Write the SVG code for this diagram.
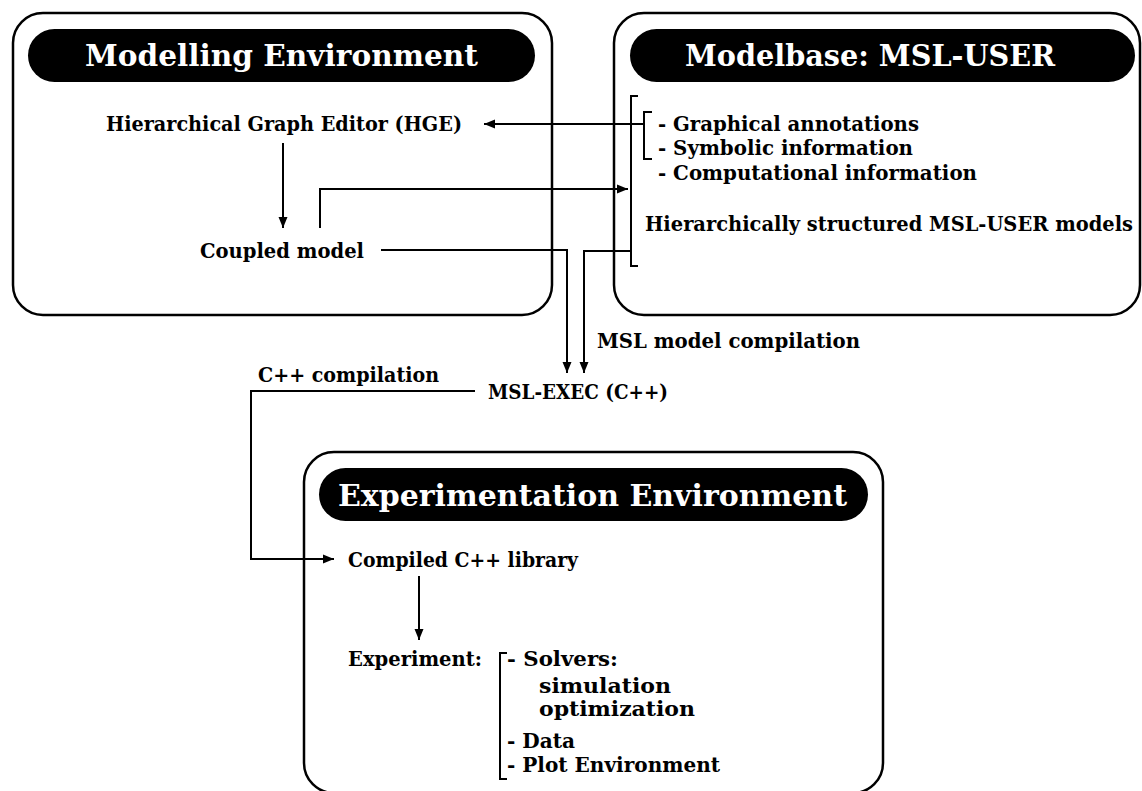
<svg xmlns="http://www.w3.org/2000/svg" width="1142" height="791" viewBox="0 0 1142 791">
<style>
.box{fill:#fff;stroke:#000;stroke-width:2.5}
.pill{fill:#000;stroke:none}
.title{font-family:"DejaVu Serif","Liberation Serif",serif;font-weight:bold;font-size:30px;fill:#fff}
.t{font-family:"DejaVu Serif","Liberation Serif",serif;font-weight:bold;font-size:21px;fill:#000}
.ln{fill:none;stroke:#000;stroke-width:2}
.arr{fill:none;stroke:#000;stroke-width:2;marker-end:url(#ah)}
</style>
<defs>
<marker id="ah" markerUnits="userSpaceOnUse" markerWidth="12" markerHeight="10" refX="11" refY="5" orient="auto">
<path d="M0,0.5 L11,5 L0,9.5 Z" fill="#000"/>
</marker>
</defs>
<rect width="1142" height="791" fill="#fff"/>
<g id="modelling-environment">
<rect class="box" x="13" y="13" width="539" height="302" rx="30"/>
<rect class="pill" x="28" y="29" width="507" height="53" rx="26.5"/>
<text class="title" x="85" y="66" textLength="393" lengthAdjust="spacingAndGlyphs">Modelling Environment</text>
</g>
<g id="modelbase">
<rect class="box" x="614" y="13" width="526" height="302" rx="30"/>
<rect class="pill" x="630" y="29" width="505" height="53" rx="26.5"/>
<text class="title" x="685" y="66" textLength="370" lengthAdjust="spacingAndGlyphs">Modelbase: MSL-USER</text>
</g>
<g id="experimentation-environment">
<rect class="box" x="304" y="452" width="579" height="341" rx="30"/>
<rect class="pill" x="319" y="468" width="549" height="53" rx="26.5"/>
<text class="title" x="338" y="506" textLength="509" lengthAdjust="spacingAndGlyphs">Experimentation Environment</text>
</g>
<g id="hge"><text class="t" x="106" y="131" textLength="356" lengthAdjust="spacingAndGlyphs">Hierarchical Graph Editor (HGE)</text></g>
<g id="coupled-model"><text class="t" x="200" y="258" textLength="164" lengthAdjust="spacingAndGlyphs">Coupled model</text></g>
<g id="msl-user-models">
<path class="ln" d="M638,96 H631 V266 H638"/>
<path class="ln" d="M652,112 H644 V159 H652"/>
<text class="t" x="658" y="131" textLength="261" lengthAdjust="spacingAndGlyphs">- Graphical annotations</text>
<text class="t" x="658" y="155" textLength="255" lengthAdjust="spacingAndGlyphs">- Symbolic information</text>
<text class="t" x="658" y="180" textLength="319" lengthAdjust="spacingAndGlyphs">- Computational information</text>
<text class="t" x="645" y="231" style="font-size:19.5px" textLength="488" lengthAdjust="spacingAndGlyphs">Hierarchically structured MSL-USER models</text>
</g>
<g id="msl-exec"><text class="t" x="488" y="399" textLength="180" lengthAdjust="spacingAndGlyphs">MSL-EXEC (C++)</text></g>
<g id="compiled-library"><text class="t" x="348" y="567" textLength="230" lengthAdjust="spacingAndGlyphs">Compiled C++ library</text></g>
<g id="experiment">
<text class="t" x="348" y="666" textLength="134" lengthAdjust="spacingAndGlyphs">Experiment:</text>
<path class="ln" d="M507,653 H500 V779 H507"/>
<text class="t" x="507" y="666" textLength="111" lengthAdjust="spacingAndGlyphs">- Solvers:</text>
<text class="t" x="539" y="693" textLength="132" lengthAdjust="spacingAndGlyphs">simulation</text>
<text class="t" x="539" y="716" textLength="156" lengthAdjust="spacingAndGlyphs">optimization</text>
<text class="t" x="507" y="748" textLength="68" lengthAdjust="spacingAndGlyphs">- Data</text>
<text class="t" x="507" y="772" textLength="213" lengthAdjust="spacingAndGlyphs">- Plot Environment</text>
</g>
<g id="connectors">
<path class="arr" d="M644,124 H484"/>
<path class="arr" d="M283,143 V228"/>
<path class="arr" d="M320,228 V189 H628"/>
<path class="arr" d="M381,250 H567 V373"/>
<path class="arr" d="M631,251 H584 V373"/>
<path class="arr" d="M475,391 H251 V559 H334"/>
<path class="arr" d="M419,576 V640"/>
<text class="t" x="597" y="348" textLength="263" lengthAdjust="spacingAndGlyphs">MSL model compilation</text>
<text class="t" x="258" y="382" textLength="181" lengthAdjust="spacingAndGlyphs">C++ compilation</text>
</g>
</svg>
